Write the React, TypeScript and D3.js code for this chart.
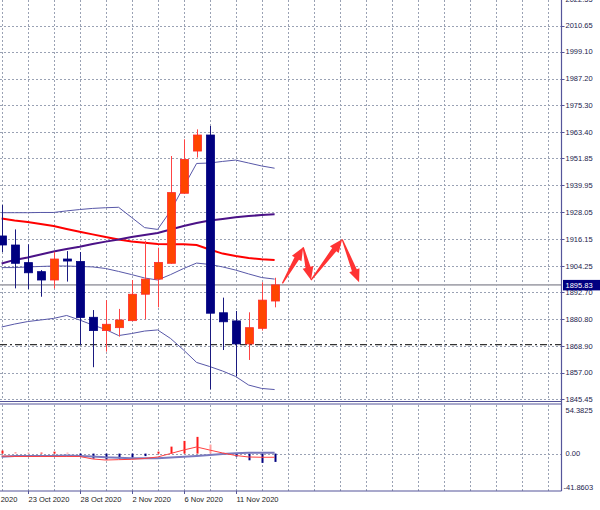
import React from "react";
import * as d3 from "d3";

// ---- data ----
const dates = [
  "21 Oct 2020", "22 Oct 2020", "23 Oct 2020", "25 Oct 2020", "26 Oct 2020", "27 Oct 2020",
  "28 Oct 2020", "29 Oct 2020", "30 Oct 2020", "1 Nov 2020", "2 Nov 2020", "3 Nov 2020",
  "4 Nov 2020", "5 Nov 2020", "6 Nov 2020", "8 Nov 2020", "9 Nov 2020", "10 Nov 2020",
  "11 Nov 2020", "12 Nov 2020", "13 Nov 2020", "15 Nov 2020",
];
const opens = [1917.5, 1913.5, 1905.7, 1901.7, 1898.0, 1907.3, 1906.2, 1881.5, 1875.6, 1876.9, 1880.0, 1891.7, 1898.4, 1905.4, 1936.4, 1955.1, 1962.2, 1883.5, 1879.9, 1869.7, 1876.6, 1888.7];
const highs = [1931.2, 1920.4, 1913.8, 1902.4, 1910.5, 1910.8, 1910.4, 1884.7, 1889.1, 1885.2, 1898.0, 1915.4, 1912.3, 1952.9, 1960.3, 1964.7, 1966.2, 1890.2, 1884.3, 1883.7, 1897.0, 1899.0];
const lows = [1910.4, 1894.3, 1894.0, 1890.6, 1894.3, 1897.3, 1869.2, 1859.4, 1866.3, 1872.9, 1879.8, 1880.6, 1885.9, 1905.2, 1936.2, 1952.2, 1849.6, 1867.0, 1855.5, 1862.6, 1875.6, 1885.9];
const closes = [1913.5, 1905.4, 1901.2, 1898.0, 1907.3, 1906.4, 1881.4, 1875.6, 1878.4, 1880.3, 1891.7, 1898.4, 1905.8, 1936.7, 1951.4, 1962.2, 1883.3, 1879.5, 1869.7, 1876.9, 1889.1, 1895.83];

const bbUpper = [1927.8, 1927.8, 1927.8, 1927.9, 1927.9, 1928.6, 1929.2, 1929.7, 1930.0, 1930.2, 1925.7, 1921.2, 1920.4, 1928.6, 1939.2, 1949.6, 1949.8, 1950.5, 1951.1, 1949.8, 1948.5, 1947.5];
const bbMiddle = [1903.5, 1903.5, 1903.8, 1904.0, 1904.2, 1904.2, 1904.0, 1903.8, 1903.1, 1901.8, 1900.4, 1898.9, 1898.0, 1900.4, 1903.1, 1905.5, 1904.9, 1903.8, 1902.4, 1900.7, 1899.1, 1898.4];
const bbLower = [1877.2, 1878.5, 1879.6, 1880.3, 1881.0, 1882.3, 1880.3, 1878.1, 1876.1, 1873.4, 1874.3, 1875.4, 1875.9, 1872.1, 1867.0, 1861.5, 1859.7, 1857.7, 1855.3, 1851.5, 1850.0, 1849.5];
const maRed = [1925.2, 1924.3, 1923.7, 1922.8, 1921.9, 1920.6, 1919.4, 1918.2, 1917.0, 1915.9, 1915.1, 1914.5, 1913.9, 1913.8, 1913.8, 1913.5, 1911.5, 1909.7, 1908.6, 1907.7, 1907.2, 1906.9];
const maPurple = [1905.3, 1906.9, 1908.0, 1909.3, 1910.6, 1911.7, 1912.7, 1913.9, 1915.0, 1915.9, 1917.0, 1917.9, 1918.8, 1920.4, 1921.9, 1923.2, 1924.3, 1925.0, 1925.8, 1926.3, 1926.8, 1927.1];

const histValues = [3.4, 1.7, 1.1, 1.1, 2.2, 1.1, -3.4, -5.6, -6.7, -5.6, -4.5, -2.8, 2.2, 7.8, 14.2, 18.7, 10.1, 1.0, -3.4, -7.5, -10.4, -9.3];
const oscRed = [-2.7, -3.2, -3.2, -3.2, -3.2, -3.2, -3.2, -6.0, -7.2, -6.8, -6.4, -5.5, -3.8, 0.1, 4.0, 7.4, 4.0, 0.7, -2.1, -3.8, -4.1, -4.1];
const oscSlate = [-3.5, -2.7, -2.7, -2.7, -2.7, -2.1, -2.7, -3.2, -4.1, -4.6, -5.3, -5.3, -5.3, -4.4, -3.5, -2.7, -1.6, -0.4, 0.3, 1.0, 1.0, 1.0];

const priceLabels = ["2022.55", "2010.65", "1999.10", "1987.20", "1975.30", "1963.40", "1951.85", "1939.95", "1928.05", "1916.15", "1904.25", "1892.70", "1880.80", "1868.90", "1857.00", "1845.45"];
const subLabels = ["54.3825", "0.00", "-41.8603"];
const axisDates = ["19 Oct 2020", "23 Oct 2020", "28 Oct 2020", "2 Nov 2020", "6 Nov 2020", "11 Nov 2020"];
const axisIdx = [-2, 2, 6, 10, 14, 18];

const currentPrice = 1895.83;
const levelPrice = 1869.4;

const arrowIdx = [21.6, 23.2, 23.8, 26.2, 27.5];
const arrowPrice = [1896.5, 1912.5, 1898.0, 1916.0, 1897.0];

// ---- layout ----
const W = 600, H = 510;
const RIGHT = 561.5;
const MAIN_TOP = -1.3, MAIN_BOTTOM = 398.7;
const SUB_TOP = 405, SUB_BOTTOM = 491;
const FONT = "'Liberation Sans', Arial, sans-serif";

function arrowPath(x1: number, y1: number, x2: number, y2: number) {
  const dx = x2 - x1, dy = y2 - y1;
  const L = Math.hypot(dx, dy);
  const ux = dx / L, uy = dy / L;
  const nx = -uy, ny = ux;
  const hl = 13, hw = 5.5, tw = 0.6, bw = 2.6;
  const bx = x2 - ux * hl, by = y2 - uy * hl;
  const pts = [
    [x1 + nx * tw, y1 + ny * tw],
    [bx + nx * bw, by + ny * bw],
    [bx + nx * hw, by + ny * hw],
    [x2, y2],
    [bx - nx * hw, by - ny * hw],
    [bx - nx * bw, by - ny * bw],
    [x1 - nx * tw, y1 - ny * tw],
  ];
  return "M" + pts.map((p) => p[0].toFixed(2) + "," + p[1].toFixed(2)).join("L") + "Z";
}

export default function App() {
  const x = d3.scaleLinear().domain([0, 21]).range([1.6, 274.6]);
  const y = d3.scaleLinear().domain([1845.45, 2022.55]).range([MAIN_BOTTOM, MAIN_TOP]);
  const ys = d3.scaleLinear().domain([-41.8603, 54.3825]).range([SUB_BOTTOM, SUB_TOP]);

  const mkLine = (vals: number[], sc: d3.ScaleLinear<number, number>) =>
    d3.line<number>().x((_, i) => x(i)).y((v) => sc(v))(vals) || "";

  const gridIdx = d3.range(0, 43, 2);
  const bodyW = 8;

  const gridColor = "#9aa2b4";
  const borderColor = "#55559a";

  return (
    <svg width={W} height={H} style={{ position: "fixed", left: 0, top: 0, background: "#fff" }} fontFamily={FONT}>
      <defs>
        <clipPath id="mainClip"><rect x={0} y={0} width={RIGHT} height={401} /></clipPath>
        <clipPath id="subClip"><rect x={0} y={404.5} width={RIGHT} height={SUB_BOTTOM - 404.5} /></clipPath>
      </defs>
      <rect x={0} y={0} width={W} height={H} fill="#fff" />

      {/* main grid */}
      <g stroke={gridColor} strokeWidth={1} strokeDasharray="2,2">
        {gridIdx.map((g) => (
          <line key={"vg" + g} x1={Math.round(x(g)) + 0.5} x2={Math.round(x(g)) + 0.5} y1={0} y2={400} />
        ))}
        {priceLabels.map((p) => (
          <line key={"hg" + p} x1={0} x2={RIGHT} y1={Math.round(y(+p)) + 0.5} y2={Math.round(y(+p)) + 0.5} />
        ))}
        {gridIdx.map((g) => (
          <line key={"svg" + g} x1={Math.round(x(g)) + 0.5} x2={Math.round(x(g)) + 0.5} y1={405} y2={SUB_BOTTOM} />
        ))}
        <line x1={0} x2={RIGHT} y1={Math.round(ys(0)) + 0.5} y2={Math.round(ys(0)) + 0.5} />
      </g>

      <g clipPath="url(#mainClip)">
        {/* current price line */}
        <line x1={0} x2={RIGHT} y1={y(currentPrice)} y2={y(currentPrice)} stroke="#a8a8b0" strokeWidth={1.6} />
        {/* dash-dot level */}
        <line x1={0} x2={RIGHT} y1={y(levelPrice)} y2={y(levelPrice)} stroke="#333" strokeWidth={1.2} strokeDasharray="7,3,2,3" />

        {/* bollinger bands */}
        <path d={mkLine(bbUpper, y)} fill="none" stroke="#5858a8" strokeWidth={1} />
        <path d={mkLine(bbMiddle, y)} fill="none" stroke="#5858a8" strokeWidth={1} />
        <path d={mkLine(bbLower, y)} fill="none" stroke="#5858a8" strokeWidth={1} />
        {/* moving averages */}
        <path d={mkLine(maRed, y)} fill="none" stroke="#ff0000" strokeWidth={2} />
        <path d={mkLine(maPurple, y)} fill="none" stroke="#4b1287" strokeWidth={2} />

        {/* candles */}
        {dates.map((d, i) => {
          const bull = closes[i] >= opens[i];
          const cx = Math.round(x(i)) + 0.5;
          const top = y(Math.max(opens[i], closes[i]));
          const bot = y(Math.min(opens[i], closes[i]));
          return (
            <g key={d}>
              <line x1={cx} x2={cx} y1={y(highs[i])} y2={y(lows[i])} stroke={bull ? "#ff4444" : "#1a1a80"} strokeWidth={1} />
              <rect
                x={cx - bodyW / 2}
                y={top}
                width={bodyW}
                height={Math.max(1.5, bot - top)}
                fill={bull ? "#ff4500" : "#000080"}
                stroke={bull ? "#ff2a2a" : "#000080"}
                strokeWidth={0.8}
              />
            </g>
          );
        })}

        {/* arrows */}
        {arrowIdx.slice(1).map((ai, k) => (
          <path
            key={"ar" + k}
            d={arrowPath(x(arrowIdx[k]), y(arrowPrice[k]), x(ai), y(arrowPrice[k + 1]))}
            fill="#ff3333"
          />
        ))}
      </g>

      {/* sub window */}
      <g clipPath="url(#subClip)">
        {histValues.map((v, i) => {
          const prev = i > 0 ? histValues[i - 1] : -Infinity;
          const col = v >= 0 ? (v >= prev ? "#ff1a1a" : "#ffa0a0") : "#000080";
          const y0 = ys(0), y1 = ys(v);
          return (
            <rect key={"h" + i} x={Math.round(x(i)) - 0.5} y={Math.min(y0, y1)} width={2} height={Math.abs(y1 - y0)} fill={col} />
          );
        })}
        <path d={mkLine(oscSlate, ys)} fill="none" stroke="#7a7abf" strokeWidth={2} />
        <path d={mkLine(oscRed, ys)} fill="none" stroke="#ff4040" strokeWidth={1} />
      </g>

      {/* borders */}
      <g stroke={borderColor} strokeWidth={1.2}>
        <line x1={RIGHT} x2={RIGHT} y1={0} y2={SUB_BOTTOM} />
        <line x1={0} x2={RIGHT} y1={401.5} y2={401.5} />
        <line x1={0} x2={RIGHT} y1={404} y2={404} />
        <line x1={0} x2={RIGHT} y1={SUB_BOTTOM} y2={SUB_BOTTOM} />
      </g>

      {/* right price axis */}
      <g fontSize={7.5} fill="#1c1c4c">
        {priceLabels.map((p) => (
          <g key={"pl" + p}>
            <line x1={RIGHT} x2={RIGHT + 3} y1={Math.round(y(+p)) + 0.5} y2={Math.round(y(+p)) + 0.5} stroke={borderColor} />
            <text x={565.5} y={y(+p) + 2.8}>{p}</text>
          </g>
        ))}
        <text x={565.5} y={SUB_TOP + 8}>{subLabels[0]}</text>
        <text x={565.5} y={ys(0) + 2.8}>{subLabels[1]}</text>
        <text x={563.5} y={SUB_BOTTOM - 1.5}>{subLabels[2]}</text>
      </g>

      {/* current price tag */}
      <rect x={563} y={y(currentPrice) - 5} width={37} height={10.5} fill="#000080" />
      <text x={565.5} y={y(currentPrice) + 3} fontSize={7.5} fill="#fff">{currentPrice.toFixed(2)}</text>

      {/* bottom date axis */}
      <g fontSize={7.5} fill="#1a1a1a">
        {axisDates.map((d, k) => {
          const tx = Math.round(x(axisIdx[k])) + 0.5;
          return (
            <g key={"ad" + d}>
              <line x1={tx} x2={tx} y1={SUB_BOTTOM} y2={SUB_BOTTOM + 3} stroke={borderColor} />
              <text x={tx} y={502}>{d}</text>
            </g>
          );
        })}
      </g>
    </svg>
  );
}
